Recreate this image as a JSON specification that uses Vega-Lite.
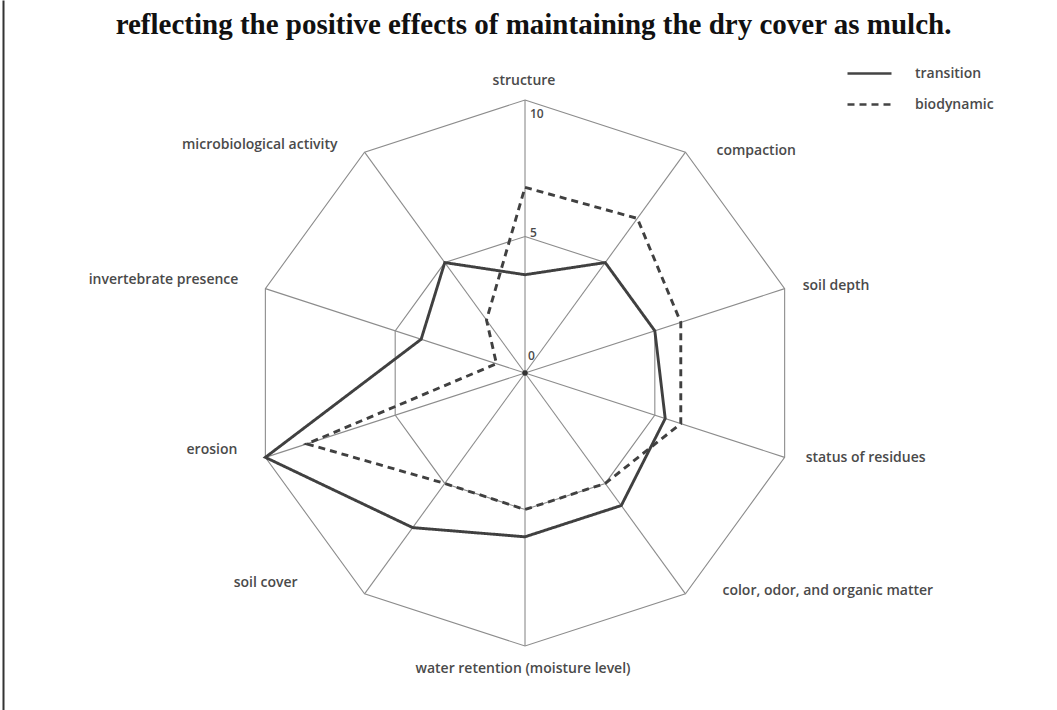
{
  "$schema": "https://vega.github.io/schema/vega-lite/v6.json",
  "width": 1057,
  "height": 710,
  "autosize": {"type": "none"},
  "padding": 0,
  "background": "white",
  "config": {"view": {"stroke": null}},
  "title": {"text": "reflecting the positive effects of maintaining the dry cover as mulch.", "font": "Liberation Serif", "fontSize": 29, "fontWeight": "bold", "color": "#111111", "anchor": "middle", "offset": -40, "frame": "group", "dx": 5},
  "datasets": {
    "scores": [
      {"axis": "structure", "order": 0, "series": "transition", "value": 3.6},
      {"axis": "compaction", "order": 1, "series": "transition", "value": 5},
      {"axis": "soil depth", "order": 2, "series": "transition", "value": 5},
      {"axis": "status of residues", "order": 3, "series": "transition", "value": 5.4},
      {"axis": "color, odor, and organic matter", "order": 4, "series": "transition", "value": 6},
      {"axis": "water retention (moisture level)", "order": 5, "series": "transition", "value": 6},
      {"axis": "soil cover", "order": 6, "series": "transition", "value": 7},
      {"axis": "erosion", "order": 7, "series": "transition", "value": 10},
      {"axis": "invertebrate presence", "order": 8, "series": "transition", "value": 4},
      {"axis": "microbiological activity", "order": 9, "series": "transition", "value": 5},
      {"axis": "structure", "order": 0, "series": "biodynamic", "value": 6.8},
      {"axis": "compaction", "order": 1, "series": "biodynamic", "value": 7},
      {"axis": "soil depth", "order": 2, "series": "biodynamic", "value": 6},
      {"axis": "status of residues", "order": 3, "series": "biodynamic", "value": 6},
      {"axis": "color, odor, and organic matter", "order": 4, "series": "biodynamic", "value": 5},
      {"axis": "water retention (moisture level)", "order": 5, "series": "biodynamic", "value": 5},
      {"axis": "soil cover", "order": 6, "series": "biodynamic", "value": 5},
      {"axis": "erosion", "order": 7, "series": "biodynamic", "value": 8.4},
      {"axis": "invertebrate presence", "order": 8, "series": "biodynamic", "value": 1.1},
      {"axis": "microbiological activity", "order": 9, "series": "biodynamic", "value": 2.4}
    ],
    "grid": [
      {"axis": "structure", "order": 0, "ring": 10},
      {"axis": "compaction", "order": 1, "ring": 10},
      {"axis": "soil depth", "order": 2, "ring": 10},
      {"axis": "status of residues", "order": 3, "ring": 10},
      {"axis": "color, odor, and organic matter", "order": 4, "ring": 10},
      {"axis": "water retention (moisture level)", "order": 5, "ring": 10},
      {"axis": "soil cover", "order": 6, "ring": 10},
      {"axis": "erosion", "order": 7, "ring": 10},
      {"axis": "invertebrate presence", "order": 8, "ring": 10},
      {"axis": "microbiological activity", "order": 9, "ring": 10},
      {"axis": "structure", "order": 0, "ring": 5},
      {"axis": "compaction", "order": 1, "ring": 5},
      {"axis": "soil depth", "order": 2, "ring": 5},
      {"axis": "status of residues", "order": 3, "ring": 5},
      {"axis": "color, odor, and organic matter", "order": 4, "ring": 5},
      {"axis": "water retention (moisture level)", "order": 5, "ring": 5},
      {"axis": "soil cover", "order": 6, "ring": 5},
      {"axis": "erosion", "order": 7, "ring": 5},
      {"axis": "invertebrate presence", "order": 8, "ring": 5},
      {"axis": "microbiological activity", "order": 9, "ring": 5}
    ],
    "ticks": [
      {"tick": 0},
      {"tick": 5},
      {"tick": 10}
    ]
  },
  "layer": [
    {
      "data": {"name": "grid"},
      "transform": [
        {"calculate": "datum.ring * cos(PI/2 - datum.order * PI/5)", "as": "gx"},
        {"calculate": "datum.ring * sin(PI/2 - datum.order * PI/5)", "as": "gy"}
      ],
      "mark": {"type": "line", "interpolate": "linear-closed", "color": "#8c8c8c", "strokeWidth": 1.1},
      "encoding": {
        "x": {"field": "gx", "type": "quantitative", "scale": {"domain": [-19.231, 19.487], "nice": false, "zero": false}, "axis": null},
        "y": {"field": "gy", "type": "quantitative", "scale": {"domain": [-12.344, 13.663], "nice": false, "zero": false}, "axis": {"title": null, "labels": false, "ticks": false, "grid": false, "domain": true, "domainColor": "#333333", "domainWidth": 2, "offset": -3}},
        "detail": {"field": "ring", "type": "nominal"},
        "order": {"field": "order", "type": "quantitative"}
      }
    },
    {
      "data": {"name": "grid"},
      "transform": [
        {"filter": "datum.ring == 10"},
        {"calculate": "datum.ring * cos(PI/2 - datum.order * PI/5)", "as": "gx"},
        {"calculate": "datum.ring * sin(PI/2 - datum.order * PI/5)", "as": "gy"},
        {"calculate": "0", "as": "ox"}
      ],
      "mark": {"type": "rule", "color": "#8c8c8c", "strokeWidth": 1.1},
      "encoding": {
        "x": {"field": "gx", "type": "quantitative", "scale": {"domain": [-19.231, 19.487], "nice": false, "zero": false}, "axis": null},
        "y": {"field": "gy", "type": "quantitative", "scale": {"domain": [-12.344, 13.663], "nice": false, "zero": false}, "axis": {"title": null, "labels": false, "ticks": false, "grid": false, "domain": true, "domainColor": "#333333", "domainWidth": 2, "offset": -3}},
        "x2": {"field": "ox"},
        "y2": {"field": "ox"}
      }
    },
    {
      "data": {"name": "scores"},
      "transform": [
        {"calculate": "datum.value * cos(PI/2 - datum.order * PI/5)", "as": "px"},
        {"calculate": "datum.value * sin(PI/2 - datum.order * PI/5)", "as": "py"}
      ],
      "mark": {"type": "line", "interpolate": "linear-closed", "color": "#404040", "strokeWidth": 2.9},
      "encoding": {
        "x": {"field": "px", "type": "quantitative", "scale": {"domain": [-19.231, 19.487], "nice": false, "zero": false}, "axis": null},
        "y": {"field": "py", "type": "quantitative", "scale": {"domain": [-12.344, 13.663], "nice": false, "zero": false}, "axis": {"title": null, "labels": false, "ticks": false, "grid": false, "domain": true, "domainColor": "#333333", "domainWidth": 2, "offset": -3}},
        "detail": {"field": "series", "type": "nominal"},
        "order": {"field": "order", "type": "quantitative"},
        "strokeDash": {
          "field": "series", "type": "nominal",
          "scale": {"domain": ["transition", "biodynamic"], "range": [[1, 0], [7, 5]]},
          "legend": {
            "title": null, "orient": "none", "legendX": 846, "legendY": 50,
            "symbolType": "stroke", "symbolSize": 1936, "symbolStrokeWidth": 2.6, "symbolStrokeColor": "#444444",
            "labelFont": "Open Sans", "labelFontSize": 14, "labelFontWeight": 600, "labelColor": "#4a4a4a", "labelOffset": 22,
            "rowPadding": -20
          }
        }
      }
    },
    {
      "data": {"name": "ticks"},
      "transform": [{"filter": "datum.tick == 0"}, {"calculate": "0", "as": "ox"}],
      "layer": [
        {"mark": {"type": "point", "filled": true, "fill": "#333333", "stroke": null, "size": 30, "opacity": 1}},
        {"mark": {"type": "text", "font": "Open Sans", "fontSize": 12, "fontWeight": 600, "fill": "#4a4a4a", "align": "left", "baseline": "middle", "dx": 3, "dy": -17}, "encoding": {"text": {"field": "tick", "type": "quantitative"}}}
      ],
      "encoding": {
        "x": {"field": "ox", "type": "quantitative", "scale": {"domain": [-19.231, 19.487], "nice": false, "zero": false}, "axis": null},
        "y": {"field": "tick", "type": "quantitative", "scale": {"domain": [-12.344, 13.663], "nice": false, "zero": false}, "axis": {"title": null, "labels": false, "ticks": false, "grid": false, "domain": true, "domainColor": "#333333", "domainWidth": 2, "offset": -3}}
      }
    },
    {
      "data": {"name": "ticks"},
      "transform": [{"filter": "datum.tick > 0"}, {"calculate": "0", "as": "ox"}],
      "layer": [
        {"transform": [{"filter": "datum.tick == 10"}], "mark": {"type": "text", "font": "Open Sans", "fontSize": 12, "fontWeight": 600, "fill": "#4a4a4a", "align": "left", "baseline": "top", "dx": 5, "dy": 9}},
        {"transform": [{"filter": "datum.tick == 5"}], "mark": {"type": "text", "font": "Open Sans", "fontSize": 12, "fontWeight": 600, "fill": "#4a4a4a", "align": "left", "baseline": "middle", "dx": 5, "dy": -4}}
      ],
      "encoding": {
        "x": {"field": "ox", "type": "quantitative", "scale": {"domain": [-19.231, 19.487], "nice": false, "zero": false}, "axis": null},
        "y": {"field": "tick", "type": "quantitative", "scale": {"domain": [-12.344, 13.663], "nice": false, "zero": false}, "axis": {"title": null, "labels": false, "ticks": false, "grid": false, "domain": true, "domainColor": "#333333", "domainWidth": 2, "offset": -3}},
        "text": {"field": "tick", "type": "quantitative"}
      }
    },
    {
      "data": {"name": "grid"},
      "transform": [
        {"filter": "datum.ring == 10"},
        {"calculate": "datum.ring * cos(PI/2 - datum.order * PI/5)", "as": "gx"},
        {"calculate": "datum.ring * sin(PI/2 - datum.order * PI/5)", "as": "gy"}
      ],
      "layer": [
        {"transform": [{"filter": "datum.order == 0"}], "mark": {"type": "text", "font": "Open Sans", "fontSize": 14, "fontWeight": 600, "fill": "#4a4a4a", "align": "center", "baseline": "middle", "dx": -1, "dy": -19}},
        {"transform": [{"filter": "datum.order == 1"}], "mark": {"type": "text", "font": "Open Sans", "fontSize": 14, "fontWeight": 600, "fill": "#4a4a4a", "align": "left", "baseline": "middle", "dx": 31, "dy": -1}},
        {"transform": [{"filter": "datum.order == 2"}], "mark": {"type": "text", "font": "Open Sans", "fontSize": 14, "fontWeight": 600, "fill": "#4a4a4a", "align": "left", "baseline": "middle", "dx": 18, "dy": -3}},
        {"transform": [{"filter": "datum.order == 3"}], "mark": {"type": "text", "font": "Open Sans", "fontSize": 14, "fontWeight": 600, "fill": "#4a4a4a", "align": "left", "baseline": "middle", "dx": 21, "dy": 1}},
        {"transform": [{"filter": "datum.order == 4"}], "mark": {"type": "text", "font": "Open Sans", "fontSize": 14, "fontWeight": 600, "fill": "#4a4a4a", "align": "left", "baseline": "middle", "dx": 37, "dy": -3}},
        {"transform": [{"filter": "datum.order == 5"}], "mark": {"type": "text", "font": "Open Sans", "fontSize": 14, "fontWeight": 600, "fill": "#4a4a4a", "align": "center", "baseline": "middle", "dx": -2, "dy": 23}},
        {"transform": [{"filter": "datum.order == 6"}], "mark": {"type": "text", "font": "Open Sans", "fontSize": 14, "fontWeight": 600, "fill": "#4a4a4a", "align": "right", "baseline": "middle", "dx": -67, "dy": -11}},
        {"transform": [{"filter": "datum.order == 7"}], "mark": {"type": "text", "font": "Open Sans", "fontSize": 14, "fontWeight": 600, "fill": "#4a4a4a", "align": "right", "baseline": "middle", "dx": -28, "dy": -7}},
        {"transform": [{"filter": "datum.order == 8"}], "mark": {"type": "text", "font": "Open Sans", "fontSize": 14, "fontWeight": 600, "fill": "#4a4a4a", "align": "right", "baseline": "middle", "dx": -27, "dy": -9}},
        {"transform": [{"filter": "datum.order == 9"}], "mark": {"type": "text", "font": "Open Sans", "fontSize": 14, "fontWeight": 600, "fill": "#4a4a4a", "align": "right", "baseline": "middle", "dx": -27, "dy": -7}}
      ],
      "encoding": {
        "x": {"field": "gx", "type": "quantitative", "scale": {"domain": [-19.231, 19.487], "nice": false, "zero": false}, "axis": null},
        "y": {"field": "gy", "type": "quantitative", "scale": {"domain": [-12.344, 13.663], "nice": false, "zero": false}, "axis": {"title": null, "labels": false, "ticks": false, "grid": false, "domain": true, "domainColor": "#333333", "domainWidth": 2, "offset": -3}},
        "text": {"field": "axis", "type": "nominal"}
      }
    }
  ]
}
